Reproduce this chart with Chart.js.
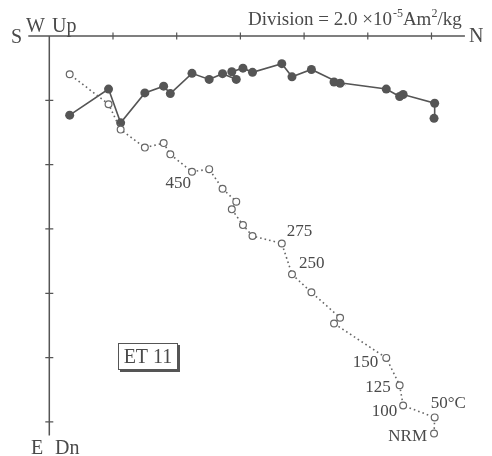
<!DOCTYPE html>
<html><head><meta charset="utf-8">
<script src="https://cdn.jsdelivr.net/npm/chart.js@4/dist/chart.umd.min.js"></script>
<style>html,body{margin:0;padding:0;background:#fff}</style>
</head><body>
<canvas id="c" width="492" height="456"></canvas>
<script>
// Demagnetisation steps (only annotated ones carry a label)
const steps = ['NRM','50°C','100','125','150','','','','250','275','','','','','','','450','','','','','',''];
// N component (horizontal axis), units of 1e-5 Am2/kg
const north = [12.08,12.10,11.11,11.00,10.58,8.94,9.13,8.23,7.62,7.30,6.38,6.08,5.73,5.87,5.44,5.02,4.48,3.80,3.59,3.00,2.24,1.86,0.64];
// E component (horizontal projection, solid symbols), positive downwards
const east = [2.56,2.09,1.82,1.88,1.65,1.43,1.47,1.04,1.27,0.86,1.13,1.00,1.11,1.35,1.17,1.35,1.16,1.79,1.56,1.77,2.70,1.65,2.46];
// Down component (vertical projection, open symbols), positive downwards
const down = [12.36,11.86,11.49,10.86,10.01,8.94,8.76,7.97,7.41,6.45,6.22,5.88,5.39,5.15,4.75,4.14,4.22,3.68,3.33,3.47,2.91,2.12,1.19];
// Axis divisions (2.0e-5 Am2/kg each)
const tickValues = [2,4,6,8,10,12];
const divisionText = ['Division = 2.0 ×10', '-5', 'Am', '2', '/kg'];
const sampleName = 'ET 11';

const labelStyle = {
  'NRM': {align:'right', dx:-7, dy:3},
  '50°C': {align:'left', dx:-4, dy:-14},
  '100': {align:'right', dx:-6, dy:6},
  '125': {align:'right', dx:-9, dy:2},
  '150': {align:'right', dx:-8, dy:5},
  '250': {align:'left', dx:7, dy:-11},
  '275': {align:'left', dx:5, dy:-12},
  '450': {align:'right', dx:-1, dy:12}
};

const SERIF = '"Liberation Serif","Times New Roman",serif';
const INK = '#4a4a4a';

const overlay = {
  id: 'overlay',
  afterDatasetsDraw(chart) {
    const ctx = chart.ctx, xs = chart.scales.x, ys = chart.scales.y;
    const x0 = xs.getPixelForValue(0), y0 = ys.getPixelForValue(0);
    ctx.save();
    ctx.strokeStyle = '#555'; ctx.lineWidth = 1.5;
    ctx.beginPath();
    ctx.moveTo(xs.getPixelForValue(-0.66), y0);
    ctx.lineTo(xs.getPixelForValue(13.05), y0);
    ctx.moveTo(x0, y0);
    ctx.lineTo(x0, ys.getPixelForValue(12.42));
    ctx.stroke();
    ctx.lineWidth = 1.2;
    ctx.beginPath();
    tickValues.forEach(v => {
      const px = xs.getPixelForValue(v);
      ctx.moveTo(px, y0 - 3.5); ctx.lineTo(px, y0 + 3.5);
      const py = ys.getPixelForValue(v);
      ctx.moveTo(x0 - 4, py); ctx.lineTo(x0 + 4, py);
    });
    ctx.stroke();

    ctx.fillStyle = INK;
    ctx.font = '20px ' + SERIF;
    ctx.textBaseline = 'alphabetic';
    ctx.textAlign = 'left';
    ctx.fillText('S', 11, 43);
    ctx.fillText('W', 26, 32);
    ctx.fillText('Up', 52, 32);
    ctx.fillText('N', 469, 42);
    ctx.fillText('E', 31, 454);
    ctx.fillText('Dn', 55, 454);

    let tx = 248; const base = 25;
    ctx.font = '19px ' + SERIF;
    ctx.fillText(divisionText[0], tx, base); tx += ctx.measureText(divisionText[0]).width;
    ctx.font = '12px ' + SERIF;
    ctx.fillText(divisionText[1], tx + 1, base - 8); tx += ctx.measureText(divisionText[1]).width + 1;
    ctx.font = '19px ' + SERIF;
    ctx.fillText(divisionText[2], tx, base); tx += ctx.measureText(divisionText[2]).width;
    ctx.font = '12px ' + SERIF;
    ctx.fillText(divisionText[3], tx, base - 8); tx += ctx.measureText(divisionText[3]).width;
    ctx.font = '19px ' + SERIF;
    ctx.fillText(divisionText[4], tx, base);

    ctx.font = '17px ' + SERIF;
    ctx.textBaseline = 'middle';
    steps.forEach((s, i) => {
      if (!s) return;
      const st = labelStyle[s];
      const px = xs.getPixelForValue(north[i]), py = ys.getPixelForValue(down[i]);
      ctx.textAlign = st.align;
      ctx.fillText(s, px + st.dx, py + st.dy);
    });

    ctx.strokeStyle = '#555'; ctx.lineWidth = 1;
    ctx.strokeRect(118.5, 343.5, 59, 26);
    ctx.lineWidth = 2;
    ctx.beginPath();
    ctx.moveTo(120, 371); ctx.lineTo(179, 371); ctx.lineTo(179, 345);
    ctx.stroke();
    ctx.font = '20px ' + SERIF;
    ctx.textAlign = 'center'; ctx.textBaseline = 'middle';
    ctx.fillText(sampleName, 148, 358);
    ctx.restore();
  }
};

new Chart(document.getElementById('c'), {
  type: 'scatter',
  data: {
    datasets: [
      {
        label: 'vertical',
        data: north.map((n, i) => ({x: n, y: down[i]})),
        showLine: true,
        borderColor: '#666',
        borderWidth: 1.6,
        borderDash: [1.6, 3],
        pointRadius: 3.4,
        pointBorderWidth: 1.2,
        pointBackgroundColor: '#fff',
        pointBorderColor: '#666',
        clip: false
      },
      {
        label: 'horizontal',
        data: north.map((n, i) => ({x: n, y: east[i]})),
        showLine: true,
        borderColor: '#555',
        borderWidth: 1.6,
        pointRadius: 4.5,
        pointBorderWidth: 0,
        pointBackgroundColor: '#555',
        pointBorderColor: '#555',
        clip: false
      }
    ]
  },
  options: {
    responsive: false,
    animation: false,
    devicePixelRatio: 1,
    layout: {padding: 0, autoPadding: false},
    plugins: {legend: {display: false}, tooltip: {enabled: false}},
    scales: {
      x: {type: 'linear', display: false, min: -1.548, max: 13.90},
      y: {type: 'linear', display: false, reverse: true, min: -1.12, max: 13.06}
    }
  },
  plugins: [overlay]
});
</script>
</body></html>
